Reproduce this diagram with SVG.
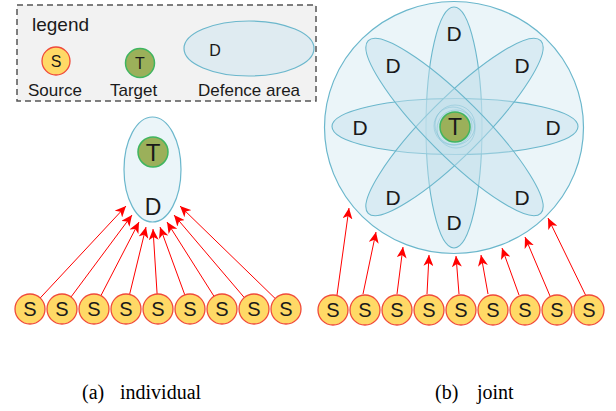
<svg xmlns="http://www.w3.org/2000/svg" width="616" height="411" viewBox="0 0 616 411">
<style>
.lbl{font-family:"Liberation Sans",Arial,sans-serif;fill:#1a1a1a}
.cap{font-family:"Liberation Serif","Times New Roman",serif;font-size:20px;fill:#000}
.src{fill:#ffd966;stroke:#f04a3a;stroke-width:1.3}
.tgt{fill:#9bb05a;stroke:#3fb560;stroke-width:1.5}
.area{fill:#ebf5f9;stroke:#6bb7cc;stroke-width:1.2}
.petal{fill:#c4dfea;fill-opacity:0.45;stroke:#6bb7cc;stroke-width:1.1}
.ring{fill:none;stroke:#6bb7cc;stroke-opacity:0.5;stroke-width:0.8}
.st{font-size:20px;text-anchor:middle}
.dt{font-size:21px;text-anchor:middle}
.arr{stroke:#ff0000;stroke-width:1;fill:none;marker-end:url(#ah)}
</style>
<defs>
<marker id="ah" markerUnits="userSpaceOnUse" markerWidth="12" markerHeight="10" refX="11" refY="5" orient="auto">
<path d="M0,0 L11,5 L0,10 L3,5 z" fill="#ff0000"/>
</marker>
</defs>
<rect width="616" height="411" fill="#fff"/>

<g id="legend">
<rect x="17" y="5" width="299" height="96" fill="#f2f2f2" stroke="#555" stroke-width="1.5" stroke-dasharray="6,4"/>
<text class="lbl" x="32" y="31" font-size="19">legend</text>
<circle class="src" cx="56" cy="61" r="14"/>
<text class="lbl" x="56" y="67" font-size="16" text-anchor="middle">S</text>
<text class="lbl" x="28" y="96" font-size="17">Source</text>
<circle class="tgt" cx="140" cy="63" r="14.5"/>
<text class="lbl" x="140" y="69" font-size="16" text-anchor="middle">T</text>
<text class="lbl" x="110" y="96" font-size="17">Target</text>
<ellipse cx="249" cy="48.5" rx="65" ry="27.5" fill="#dfebf1" stroke="#6bb7cc" stroke-width="1.2"/>
<text class="lbl" x="215" y="56" font-size="16" text-anchor="middle">D</text>
<text class="lbl" x="198" y="96" font-size="17">Defence area</text>
</g>

<g id="a-defence">
<ellipse class="area" cx="152.5" cy="169.5" rx="28.5" ry="52.5"/>
<circle class="tgt" cx="153" cy="152" r="15"/>
<text class="lbl" x="153" y="161" font-size="24" text-anchor="middle">T</text>
<text class="lbl" x="153" y="215" font-size="23" text-anchor="middle" fill="#101030">D</text>
</g>

<g id="b-defence">
<ellipse class="area" cx="454" cy="127.5" rx="129.5" ry="126"/>
<ellipse class="petal" cx="454" cy="127.5" rx="28" ry="120.5"/>
<ellipse class="petal" cx="455" cy="126.5" rx="123" ry="28"/>
<ellipse class="petal" cx="454.5" cy="127" rx="28" ry="122" transform="rotate(45 454.5 127)"/>
<ellipse class="petal" cx="454.5" cy="127" rx="28" ry="122" transform="rotate(-45 454.5 127)"/>
<circle class="ring" cx="453" cy="126" r="19"/>
<circle class="ring" cx="456" cy="129" r="19"/>
<circle class="ring" cx="455" cy="125" r="20"/>
<circle class="tgt" cx="455" cy="127" r="15"/>
<text class="lbl" x="455" y="135" font-size="23" text-anchor="middle">T</text>
<text class="lbl dt" x="454" y="41">D</text>
<text class="lbl dt" x="393" y="73">D</text>
<text class="lbl dt" x="522" y="73">D</text>
<text class="lbl dt" x="360" y="135">D</text>
<text class="lbl dt" x="553" y="135">D</text>
<text class="lbl dt" x="393" y="205">D</text>
<text class="lbl dt" x="522" y="205">D</text>
<text class="lbl dt" x="454" y="230">D</text>
</g>

<g id="connectors">
<line class="arr" x1="40.2" y1="298" x2="126" y2="206"/>
<line class="arr" x1="71" y1="297" x2="132" y2="215"/>
<line class="arr" x1="100.9" y1="295.7" x2="139" y2="222"/>
<line class="arr" x1="129.6" y1="294.4" x2="146" y2="227"/>
<line class="arr" x1="157.1" y1="294" x2="153" y2="229"/>
<line class="arr" x1="184.8" y1="294.9" x2="160" y2="227"/>
<line class="arr" x1="214" y1="296.3" x2="167" y2="222"/>
<line class="arr" x1="244.3" y1="297.6" x2="174" y2="215"/>
<line class="arr" x1="275.2" y1="298.5" x2="180" y2="206"/>

<line class="arr" x1="337" y1="295" x2="349" y2="208"/>
<line class="arr" x1="363" y1="294" x2="376" y2="232"/>
<line class="arr" x1="397" y1="294" x2="403" y2="247"/>
<line class="arr" x1="427" y1="294" x2="429" y2="255"/>
<line class="arr" x1="459" y1="294" x2="456" y2="256"/>
<line class="arr" x1="488" y1="294" x2="481" y2="255"/>
<line class="arr" x1="519" y1="295" x2="502" y2="248"/>
<line class="arr" x1="550" y1="296" x2="525" y2="237"/>
<line class="arr" x1="586" y1="296" x2="548" y2="218"/>
</g>

<g id="a-sources">
<circle class="src" cx="30" cy="309" r="15"/><text class="lbl st" x="30" y="316">S</text>
<circle class="src" cx="62" cy="309" r="15"/><text class="lbl st" x="62" y="316">S</text>
<circle class="src" cx="94" cy="309" r="15"/><text class="lbl st" x="94" y="316">S</text>
<circle class="src" cx="126" cy="309" r="15"/><text class="lbl st" x="126" y="316">S</text>
<circle class="src" cx="158" cy="309" r="15"/><text class="lbl st" x="158" y="316">S</text>
<circle class="src" cx="190" cy="309" r="15"/><text class="lbl st" x="190" y="316">S</text>
<circle class="src" cx="222" cy="309" r="15"/><text class="lbl st" x="222" y="316">S</text>
<circle class="src" cx="254" cy="309" r="15"/><text class="lbl st" x="254" y="316">S</text>
<circle class="src" cx="286" cy="309" r="15"/><text class="lbl st" x="286" y="316">S</text>
</g>

<g id="b-sources">
<circle class="src" cx="333" cy="310" r="15"/><text class="lbl st" x="333" y="317">S</text>
<circle class="src" cx="365" cy="310" r="15"/><text class="lbl st" x="365" y="317">S</text>
<circle class="src" cx="397" cy="310" r="15"/><text class="lbl st" x="397" y="317">S</text>
<circle class="src" cx="429" cy="310" r="15"/><text class="lbl st" x="429" y="317">S</text>
<circle class="src" cx="461" cy="310" r="15"/><text class="lbl st" x="461" y="317">S</text>
<circle class="src" cx="493" cy="310" r="15"/><text class="lbl st" x="493" y="317">S</text>
<circle class="src" cx="525" cy="310" r="15"/><text class="lbl st" x="525" y="317">S</text>
<circle class="src" cx="557" cy="310" r="15"/><text class="lbl st" x="557" y="317">S</text>
<circle class="src" cx="589" cy="310" r="15"/><text class="lbl st" x="589" y="317">S</text>
</g>

<g id="captions">
<text class="cap" x="82" y="399">(a)</text>
<text class="cap" x="120" y="399">individual</text>
<text class="cap" x="435" y="399">(b)</text>
<text class="cap" x="477" y="399">joint</text>
</g>
</svg>
